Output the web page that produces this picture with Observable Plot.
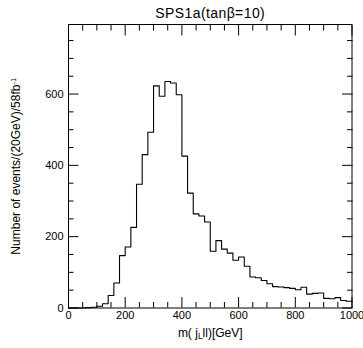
<!DOCTYPE html>
<html>
<head>
<meta charset="utf-8">
<script src="https://cdn.jsdelivr.net/npm/d3@7"></script>
<script src="https://cdn.jsdelivr.net/npm/@observablehq/plot@0.6"></script>
<style>
  html, body { margin: 0; padding: 0; background: #fff; }
  svg { display: block; }
</style>
</head>
<body>
<div id="chart"></div>
<script>
// ---- data ----
const titleText = "SPS1a(tanβ=10)";
const xLabelParts = ["m( j", "L", "ll)[GeV]"];
const yLabelParts = ["Number of events/(20GeV)/58fb", "-1"];
const binStart = 0;      // GeV
const binWidth = 20;     // GeV
const counts = [
  0, 0, 0, 1, 2, 5, 12, 35, 70, 147,
  171, 226, 347, 430, 493, 623, 594, 635, 631, 598,
  426, 322, 264, 258, 241, 159, 189, 165, 154, 134,
  143, 117, 87, 85, 77, 68, 60, 59, 57, 55,
  51, 58, 39, 41, 42, 27, 26, 29, 21, 19
];
const xMajorTicks = [0, 200, 400, 600, 800, 1000];
const xMinorTicks = [50, 100, 150, 250, 300, 350, 450, 500, 550, 650, 700, 750, 850, 900, 950];
const yMajorTicks = [0, 200, 400, 600];
const yMinorTicks = [50, 100, 150, 250, 300, 350, 450, 500, 550, 650, 700, 750];
const xDomain = [0, 1000];
const yDomain = [0, 795];

// step-line points: left edge of each bin, plus closing point at last edge
const points = counts.map((c, i) => ({x: binStart + i * binWidth, y: c}));
points.push({x: binStart + counts.length * binWidth, y: counts[counts.length - 1]});

const font = "'Liberation Sans', Arial, Helvetica, sans-serif";
const noText = () => "";
const plain = d => String(d);

const chart = Plot.plot({
  width: 363,
  height: 348,
  marginLeft: 68,
  marginRight: 11.5,
  marginTop: 24,
  marginBottom: 40.5,
  style: {fontFamily: font, fontSize: "11px", color: "black", background: "white"},
  x: {domain: xDomain},
  y: {domain: yDomain},
  marks: [
    // inward tick marks on all four sides
    Plot.axisX(xMajorTicks, {anchor: "bottom", tickSize: -10.5, tickFormat: noText, label: null, stroke: "black"}),
    Plot.axisX(xMinorTicks, {anchor: "bottom", tickSize: -5.5, tickFormat: noText, label: null, stroke: "black"}),
    Plot.axisX(xMajorTicks, {anchor: "top", tickSize: -10.5, tickFormat: noText, label: null, stroke: "black"}),
    Plot.axisX(xMinorTicks, {anchor: "top", tickSize: -5.5, tickFormat: noText, label: null, stroke: "black"}),
    Plot.axisY(yMajorTicks, {anchor: "left", tickSize: -10.5, tickFormat: noText, label: null, stroke: "black"}),
    Plot.axisY(yMinorTicks, {anchor: "left", tickSize: -5.5, tickFormat: noText, label: null, stroke: "black"}),
    Plot.axisY(yMajorTicks, {anchor: "right", tickSize: -10.5, tickFormat: noText, label: null, stroke: "black"}),
    Plot.axisY(yMinorTicks, {anchor: "right", tickSize: -5.5, tickFormat: noText, label: null, stroke: "black"}),
    // tick labels
    Plot.axisX(xMajorTicks, {anchor: "bottom", tickSize: 0, tickPadding: 3, tickFormat: plain, label: null, fill: "black", fontSize: 11}),
    Plot.axisY(yMajorTicks, {anchor: "left", tickSize: 0, tickPadding: 5, tickFormat: plain, label: null, fill: "black", fontSize: 11}),
    // histogram
    Plot.line(points, {x: "x", y: "y", curve: "step-after", stroke: "black", strokeWidth: 1.1}),
    Plot.frame({stroke: "black", strokeWidth: 1}),
    // title and axis labels
    Plot.text([titleText], {frameAnchor: "top", lineAnchor: "bottom", dy: -7, fontSize: 14, fill: "black", text: d => d}),
    Plot.text([xLabelParts.join("")], {frameAnchor: "bottom", lineAnchor: "top", dy: 20, fontSize: 12, fill: "black", text: d => d}),
    Plot.text([yLabelParts.join("")], {frameAnchor: "left", textAnchor: "middle", rotate: -90, dx: -52, fontSize: 12, fill: "black", text: d => d})
  ]
});

// rich text (subscript / superscript) for axis labels
const svg = d3.select(chart);
function findText(s) {
  return svg.selectAll("text").filter(function () { return this.textContent === s; });
}
const xl = findText(xLabelParts.join(""));
xl.text(null);
xl.append("tspan").text(xLabelParts[0]);
xl.append("tspan").attr("font-size", "8.5px").attr("dy", "2.5").text(xLabelParts[1]);
xl.append("tspan").attr("dy", "-2.5").text(xLabelParts[2]);

const yl = findText(yLabelParts.join(""));
yl.text(null);
yl.append("tspan").text(yLabelParts[0]);
yl.append("tspan").attr("font-size", "7.5px").attr("dy", "-4.5").text(yLabelParts[1]);

const tt = findText(titleText);
tt.attr("letter-spacing", "0.4px");

document.getElementById("chart").appendChild(chart);
</script>
</body>
</html>
